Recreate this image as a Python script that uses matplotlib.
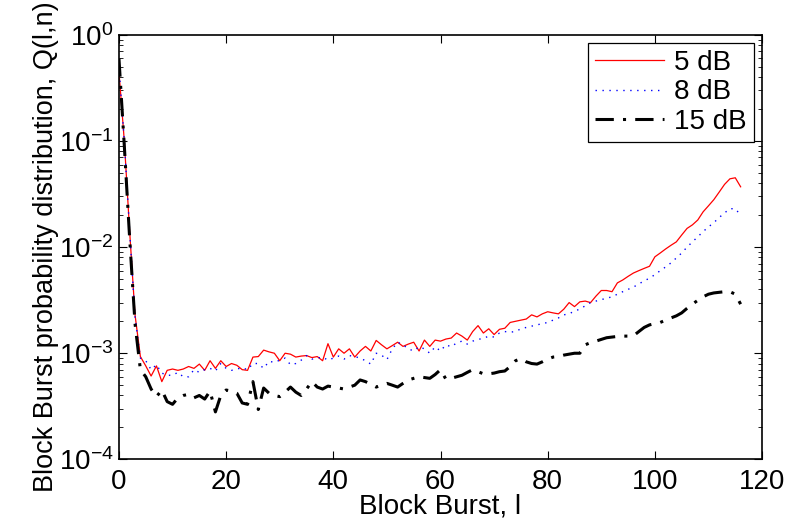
import matplotlib as mpl
import matplotlib.pyplot as plt
import numpy as np

plt.rcParams['font.family'] = ['Liberation Sans', 'DejaVu Sans']

# block burst length l
burst = np.arange(0, 117)

# Q(l,n) for 5 dB
q_5db = [0.45, 0.10, 0.014, 0.0023, 9.3e-4, 7.6e-4, 6.1e-4, 7.6e-4, 5.4e-4, 6.9e-4,
         7.1e-4, 6.9e-4, 7.1e-4, 7.5e-4, 7.2e-4, 7.9e-4, 6.9e-4, 8.5e-4, 7.2e-4, 8.5e-4,
         7.5e-4, 8.0e-4, 7.7e-4, 7.0e-4, 6.9e-4, 9.2e-4, 9.3e-4, 1.07e-3, 1.03e-3, 1.0e-3,
         8.5e-4, 1.0e-3, 9.8e-4, 9.2e-4, 9.4e-4, 9.5e-4, 9.1e-4, 9.3e-4, 8.5e-4, 1.23e-3,
         9.2e-4, 1.1e-3, 1.0e-3, 1.1e-3, 9.2e-4, 1.05e-3, 1.16e-3, 1.05e-3, 1.32e-3, 1.2e-3,
         1.1e-3, 1.18e-3, 1.27e-3, 1.16e-3, 1.22e-3, 1.27e-3, 1.05e-3, 1.33e-3, 1.16e-3, 1.33e-3,
         1.3e-3, 1.36e-3, 1.39e-3, 1.55e-3, 1.45e-3, 1.33e-3, 1.6e-3, 1.82e-3, 1.55e-3, 1.7e-3,
         1.5e-3, 1.68e-3, 1.72e-3, 1.95e-3, 2.0e-3, 2.05e-3, 2.1e-3, 2.3e-3, 2.2e-3, 2.35e-3,
         2.46e-3, 2.4e-3, 2.35e-3, 2.6e-3, 3.0e-3, 2.75e-3, 3.05e-3, 3.1e-3, 3.0e-3, 3.45e-3,
         3.9e-3, 3.9e-3, 3.8e-3, 4.6e-3, 4.9e-3, 5.3e-3, 5.7e-3, 6.0e-3, 6.3e-3, 6.6e-3,
         8.1e-3, 8.8e-3, 9.6e-3, 1.04e-2, 1.12e-2, 1.3e-2, 1.5e-2, 1.62e-2, 1.8e-2, 2.15e-2,
         2.45e-2, 2.8e-2, 3.3e-2, 3.9e-2, 4.4e-2, 4.5e-2, 3.7e-2]

# Q(l,n) for 8 dB
q_8db = [0.5, 0.10, 0.014, 0.0022, 9.0e-4, 8.5e-4, 7.0e-4, 7.8e-4, 6.5e-4, 6.2e-4,
         6.2e-4, 6.6e-4, 6.0e-4, 6.0e-4, 7.0e-4, 6.6e-4, 7.0e-4, 7.2e-4, 6.8e-4, 8.0e-4,
         7.2e-4, 6.9e-4, 7.1e-4, 7.3e-4, 7.0e-4, 8.0e-4, 8.0e-4, 7.2e-4, 8.4e-4, 8.2e-4,
         8.6e-4, 9.0e-4, 7.8e-4, 8.0e-4, 8.6e-4, 9.5e-4, 8.8e-4, 9.0e-4, 9.2e-4, 8.6e-4,
         9.0e-4, 9.4e-4, 8.8e-4, 9.5e-4, 9.3e-4, 9.0e-4, 8.5e-4, 7.9e-4, 1.0e-3, 9.6e-4,
         8.7e-4, 1.1e-3, 1.27e-3, 1.2e-3, 1.1e-3, 1.05e-3, 1.15e-3, 1.1e-3, 1.0e-3, 1.15e-3,
         1.05e-3, 1.2e-3, 1.15e-3, 1.25e-3, 1.3e-3, 1.22e-3, 1.3e-3, 1.35e-3, 1.38e-3, 1.45e-3,
         1.42e-3, 1.55e-3, 1.6e-3, 1.58e-3, 1.6e-3, 1.7e-3, 1.75e-3, 1.8e-3, 1.85e-3, 1.9e-3,
         1.95e-3, 2.05e-3, 2.15e-3, 2.3e-3, 2.35e-3, 2.5e-3, 2.6e-3, 2.8e-3, 3.0e-3, 3.1e-3,
         3.2e-3, 3.3e-3, 3.4e-3, 3.6e-3, 3.8e-3, 4.0e-3, 4.2e-3, 4.5e-3, 4.8e-3, 5.1e-3,
         5.5e-3, 6.0e-3, 6.5e-3, 7.1e-3, 7.9e-3, 8.8e-3, 1.0e-2, 1.12e-2, 1.25e-2, 1.4e-2,
         1.55e-2, 1.7e-2, 1.9e-2, 2.1e-2, 2.3e-2, 2.3e-2, 2.0e-2]

# Q(l,n) for 15 dB
q_15db = [0.6, 0.09, 0.012, 0.0019, 7.0e-4, 6.0e-4, 4.6e-4, 3.9e-4, 4.5e-4, 3.5e-4,
          3.3e-4, 3.8e-4, 4.0e-4, 4.1e-4, 3.8e-4, 4.0e-4, 3.7e-4, 4.4e-4, 2.8e-4, 4.0e-4,
          4.5e-4, 4.4e-4, 4.2e-4, 3.4e-4, 3.3e-4, 5.4e-4, 2.95e-4, 4.7e-4, 4.2e-4, 4.0e-4,
          3.9e-4, 4.3e-4, 4.8e-4, 4.3e-4, 4.0e-4, 4.6e-4, 5.4e-4, 4.8e-4, 4.6e-4, 4.9e-4,
          4.8e-4, 4.7e-4, 4.6e-4, 4.8e-4, 5.0e-4, 5.6e-4, 5.4e-4, 5.1e-4, 4.8e-4, 5.0e-4,
          5.2e-4, 5.0e-4, 4.8e-4, 5.2e-4, 5.6e-4, 5.8e-4, 6.0e-4, 5.9e-4, 5.8e-4, 6.3e-4,
          7.0e-4, 5.7e-4, 5.8e-4, 6.0e-4, 6.2e-4, 6.6e-4, 7.0e-4, 6.7e-4, 6.4e-4, 6.4e-4,
          6.5e-4, 6.7e-4, 6.8e-4, 7.5e-4, 8.5e-4, 8.9e-4, 8.3e-4, 8.0e-4, 7.9e-4, 8.3e-4,
          8.8e-4, 9.2e-4, 9.3e-4, 9.6e-4, 9.8e-4, 1.0e-3, 1.0e-3, 1.2e-3, 1.26e-3, 1.3e-3,
          1.35e-3, 1.4e-3, 1.42e-3, 1.44e-3, 1.45e-3, 1.45e-3, 1.46e-3, 1.6e-3, 1.75e-3, 1.85e-3,
          1.9e-3, 1.95e-3, 2.05e-3, 2.15e-3, 2.25e-3, 2.4e-3, 2.65e-3, 2.9e-3, 3.15e-3, 3.4e-3,
          3.6e-3, 3.7e-3, 3.75e-3, 3.8e-3, 3.8e-3, 3.6e-3, 2.9e-3]

labels = ['5 dB', '8 dB', '15 dB']

fig = plt.figure(figsize=(7.93, 5.28), dpi=100)
ax = fig.add_axes([0.150, 0.130, 0.811, 0.804])

ax.semilogy(burst, q_5db, color='red', lw=0.9, label=labels[0])
ax.semilogy(burst, q_8db, color='blue', lw=1.0, ls=(0, (1, 4)), label=labels[1])
ax.semilogy(burst, q_15db, color='black', lw=2.2, ls=(0, (6, 3, 1, 3)), label=labels[2])

ax.set_xlim(0, 120)
ax.set_ylim(1e-4, 1)
ax.set_xticks([0, 20, 40, 60, 80, 100, 120])
ax.tick_params(which='both', direction='in', top=True, right=True, labelsize=20)
ax.tick_params(which='major', length=6, width=0.8)
ax.tick_params(which='minor', length=3, width=0.6)
ax.tick_params(axis='x', pad=7)
ax.tick_params(axis='y', pad=4)
ax.xaxis.set_minor_locator(mpl.ticker.NullLocator())
for s in ax.spines.values():
    s.set_linewidth(1.2)

ax.set_xlabel('Block Burst, l', fontsize=20, labelpad=-1)
ax.set_ylabel('Block Burst probability distribution, Q(l,n)', fontsize=19.5, labelpad=0)

leg = ax.legend(loc='upper right', fontsize=20, fancybox=False, edgecolor='black',
                framealpha=1, handlelength=2.5, borderpad=0.25, labelspacing=0.12,
                handletextpad=0.35, borderaxespad=0.3)
leg.get_frame().set_linewidth(0.9)

fig.savefig('out.png', dpi=100)
